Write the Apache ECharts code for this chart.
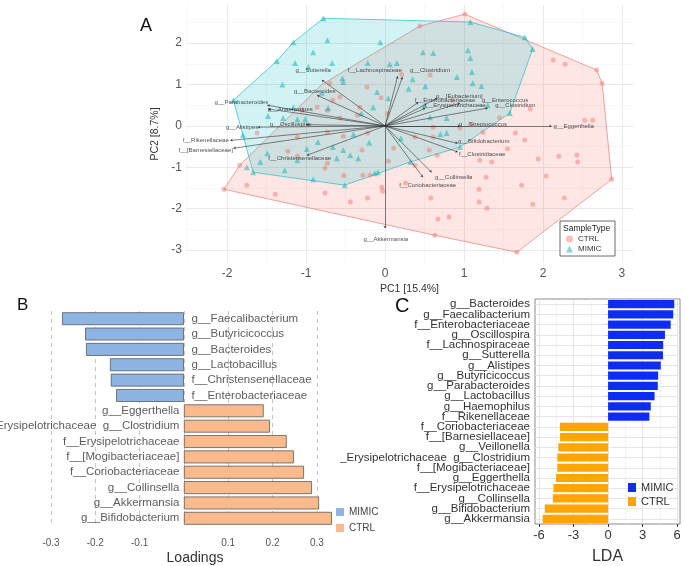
<!DOCTYPE html>
<html><head><meta charset="utf-8">
<script src="https://cdn.jsdelivr.net/npm/echarts@6/dist/echarts.min.js"></script>
<style>html,body{margin:0;padding:0;background:#fff}#c{width:685px;height:566px}</style>
</head><body><div id="c"></div>
<script>
// ---------- Panel A: PCA biplot ----------
const ctrlPoints = [
[0.57,1.23],[-0.23,0.94],[-0.57,0.70],[-0.32,0.45],[-0.73,0.38],[-0.57,0.19],[-1.62,-0.17],[-1.11,-0.27],[-0.22,-0.17],
[1.01,2.70],[0.44,2.41],[2.13,1.59],[2.28,1.49],[2.68,1.35],[2.75,1.03],[1.84,0.41],[2.53,0.14],[2.63,0.14],[1.65,-0.17],[1.77,-0.34],[0.61,-0.03],[0.95,-0.05],[0.38,-0.27],[0.61,-0.27],
[0.56,-0.58],[1.20,-0.83],[1.35,-0.87],[1.94,-0.80],[2.20,-0.73],[2.43,-0.70],[2.44,-0.87],[1.28,-1.24],[2.04,-1.21],[1.73,-1.43],[1.19,-1.53],[0.58,-1.74],[1.19,-1.84],[1.29,-1.99],[1.87,-1.89],[2.27,-1.74],[0.67,-2.25],[0.81,-2.20],[0.63,-2.64],[1.67,-3.05],[2.87,-1.29],
[-2.04,-1.53],[-1.75,-1.43],[-1.39,-1.65],[-0.76,-1.62],[-0.44,-1.84],[-0.22,-1.74],[-0.04,-1.48],[-0.03,-1.57],[-1.23,-0.61],[-1.11,-0.73],[-0.73,-0.90],[-0.76,-1.02],[-0.28,-1.19],[-0.19,-1.19],[0.04,-0.85],[0.38,-0.95],[-0.29,-0.58],[0.11,-0.54],[0.66,-0.71],[1.08,0.04],[1.24,-0.15],[-1.05,0.38],[-0.86,0.45],[-0.73,-0.15],[-0.53,-0.25],[-0.35,0.26],[-0.66,0.62],[-0.70,1.03],[-1.84,-0.95],
[0.21,1.25],[0.03,0.30],[1.45,0.20],[0.26,-1.38],[-0.52,-1.20],[1.55,-0.55],[0.85,0.62],[-0.05,0.68]
];
const mimicPoints = [
[-0.78,2.60],[-1.16,2.02],[-0.73,2.07],[-0.91,1.78],[-1.37,1.57],[-1.14,1.52],[-0.97,1.42],[-0.67,1.52],[-0.06,2.02],[-0.22,1.52],
[-0.54,1.15],[-0.53,1.06],[0.06,1.49],[0.15,1.52],[0.48,1.78],[0.61,1.76],[0.91,1.18],[0.51,0.96],[0.04,0.67],[-1.92,0.62],
[-1.48,0.24],[-1.29,0.19],[-1.11,0.16],[-1.01,0.16],[-1.16,0.45],[-0.72,0.43],[-0.15,0.45],[0.78,0.19],[-1.80,-0.22],[-0.85,-0.39],
[0.78,-0.17],[1.08,2.51],[1.77,2.14],[1.87,1.86],[1.05,1.83],[1.08,1.64],[1.10,1.30],[1.11,1.03],[1.22,0.96],[0.35,1.13],
[1.58,0.31],[0.57,0.21],[-1.67,-1.12],[-1.27,-1.07],[-1.49,-0.66],[-1.11,-0.83],[-0.91,-1.29],[-0.51,-1.43],[-0.61,-0.78],[-0.44,-0.71],
[-0.34,-0.78],[-0.66,-0.51],[-0.13,-1.14],[-0.09,-1.12],[-0.10,0.82],[-0.99,-0.56],[-0.53,-0.58],[-1.58,-0.87],[-1.75,-1.00],[0.32,-0.87],
[0.95,-0.51],[-0.30,0.30],[0.20,-0.30],[-0.40,-0.20],[0.50,0.50],[-0.80,0.80],[0.30,0.90],[-1.30,1.00],[-0.20,-0.40],[1.30,0.50],[0.70,-0.20]
];
const ctrlHull = [[1.01,2.70],[0.44,2.41],[-0.80,1.00],[-1.84,-0.95],[-2.04,-1.53],[0.63,-2.64],[1.67,-3.05],[2.87,-1.29],[2.75,1.03],[2.68,1.35]];
const mimicHull = [[-0.78,2.60],[1.08,2.51],[1.77,2.14],[1.87,1.86],[1.58,0.31],[0.95,-0.51],[0.32,-0.87],[-0.51,-1.43],[-1.67,-1.12],[-1.92,0.62],[-1.37,1.57],[-1.16,2.02]];
const loadNames = ['g__Sutterella','f__Lachnospiraceae','g__Clostridium','g__Bacteroides','g__Parabacteroides','g__Anaerostipes','g__Alistipes','g__Oscillospira','f__Rikenellaceae','f__[Barnesiellaceae]','f__Christensenellaceae','g__[Eubacterium]','f__Enterobacteriaceae','g__Enterococcus','f__Erysipelotrichaceae','g__Clostridium','g__Streptococcus','g__Eggerthella','g__Bifidobacterium','f__Clostridiaceae','g__Collinsella','f__Coriobacteriaceae','g__Akkermansia'];
const loadX = [-0.80,0.16,0.22,-0.86,-1.49,-1.48,-1.61,-1.00,-1.96,-1.92,-0.99,0.66,0.42,0.95,0.51,1.30,0.95,2.11,0.92,0.92,0.59,0.48,0.00];
const loadY = [1.11,1.20,1.18,0.74,0.50,0.41,-0.03,0.03,-0.35,-0.54,-0.71,0.67,0.57,0.55,0.43,0.43,0.00,0.00,-0.42,-0.63,-1.12,-1.24,-2.47];
const labelX = [-0.91,-0.13,0.57,-0.89,-1.82,-1.20,-1.81,-1.20,-2.27,-2.27,-1.08,0.94,0.76,1.52,0.89,1.65,1.24,2.39,1.25,1.23,0.87,0.54,0.01];
const labelY = [1.35,1.35,1.35,0.84,0.57,0.40,-0.03,0.04,-0.35,-0.59,-0.78,0.72,0.62,0.62,0.50,0.50,0.04,0.00,-0.37,-0.68,-1.24,-1.43,-2.74];
const aTicksX = [-2,-1,0,1,2,3];
const aTicksY = [-3,-2,-1,0,1,2];

// ---------- Panel B: loadings ----------
const bCats = ['g__Faecalibacterium','g__Butyricicoccus','g__Bacteroides','g__Lactobacillus','f__Christensenellaceae','f__Enterobacteriaceae','g__Eggerthella','Erysipelotrichaceae  g__Clostridium','f__Erysipelotrichaceae','f__[Mogibacteriaceae]','f__Coriobacteriaceae','g__Collinsella','g__Akkermansia','g__Bifidobacterium'];
const bVals = [-0.275,-0.223,-0.221,-0.167,-0.165,-0.153,0.180,0.194,0.232,0.248,0.271,0.289,0.305,0.334];

// ---------- Panel C: LDA ----------
const cCats = ['g__Bacteroides','g__Faecalibacterium','f__Enterobacteriaceae','g__Oscillospira','f__Lachnospiraceae','g__Sutterella','g__Alistipes','g__Butyricicoccus','g__Parabacteroides','g__Lactobacillus','g__Haemophilus','f__Rikenellaceae','f__Coriobacteriaceae','f__[Barnesiellaceae]','g__Veillonella','_Erysipelotrichaceae  g__Clostridium','f__[Mogibacteriaceae]','g__Eggerthella','f__Erysipelotrichaceae','g__Collinsella','g__Bifidobacterium','g__Akkermansia'];
const cVals = [5.75,5.66,5.44,4.94,4.79,4.77,4.58,4.35,4.32,4.04,3.71,3.59,-4.18,-4.17,-4.32,-4.41,-4.41,-4.52,-4.75,-4.80,-5.50,-5.68];
const cTicks = [-6,-3,0,3,6];

const FONT = 'Liberation Sans, Arial, sans-serif';
const chart = echarts.init(document.getElementById('c'), null, {renderer:'canvas'});

function hullRenderer(hull, fill, stroke){
  return function(params, api){
    return {type:'polygon', shape:{points: hull.map(p => api.coord(p))},
      style:{fill: fill, stroke: stroke, lineWidth: 0.8}};
  };
}
function gridLinesA(){
  const d = [];
  for (let v=-2.5; v<=3.01; v+=0.5){ const major = Math.abs(v-Math.round(v))<1e-6;
    d.push({xAxis: v, lineStyle:{color: major?'#e6e6e6':'#f3f3f3', width: major?0.9:0.6, type:'solid'}}); }
  for (let v=-3; v<=2.51; v+=0.5){ const major = Math.abs(v-Math.round(v))<1e-6;
    d.push({yAxis: v, lineStyle:{color: major?'#e6e6e6':'#f3f3f3', width: major?0.9:0.6, type:'solid'}}); }
  return d;
}
function gridLinesC(){
  const d = [];
  [-6,-4.5,-3,-1.5,0,1.5,3,4.5,6].forEach(v => {
    const major = v % 3 === 0;
    d.push({xAxis: v, lineStyle:{color: major?'#e2e2e2':'#efefef', width: major?0.9:0.6, type:'solid'}});
  });
  cCats.forEach(c => d.push({yAxis: c, lineStyle:{color:'#e2e2e2', width:0.9, type:'solid'}}));
  return d;
}
const markBase = {silent:true, symbol:['none','none'], label:{show:false}, animation:false};
const CLEAR = 'rgba(0,0,0,0)';

const option = {
  animation: false,
  textStyle: {fontFamily: FONT},
  grid: [
    {left:186, top:5, width:447, height:258},
    {left:51, top:311, width:288, height:221},
    {left:535, top:299, width:145, height:229, show:true, borderColor:'#8a8a8a', borderWidth:1, backgroundColor:'transparent'}
  ],
  xAxis: [
    {gridIndex:0, type:'value', min:-2.52, max:3.14, axisLine:{show:false}, axisTick:{show:false}, splitLine:{show:false},
     axisLabel:{customValues:aTicksX, fontSize:12, color:'#555', margin:5},
     name:'PC1 [15.4%]', nameLocation:'middle', nameGap:21, nameTextStyle:{fontSize:10.5, color:'#333'}},
    {gridIndex:1, type:'value', min:-0.3, max:0.35, interval:0.1, axisLine:{show:false}, axisTick:{show:false},
     splitLine:{show:true, showMaxLine:false, lineStyle:{type:[4,4], color:'#c4c4c4', width:1}},
     axisLabel:{fontSize:10, color:'#555', margin:12, showMaxLabel:false,
       formatter: v => (Math.abs(v) < 1e-9 || Math.abs(v*10 - Math.round(v*10)) > 1e-6) ? '' : String(Math.round(v*10)/10)},
     name:'Loadings', nameLocation:'middle', nameGap:25, nameTextStyle:{fontSize:14, color:'#333'}},
    {gridIndex:2, type:'value', min:-6.35, max:6.25, axisLine:{show:false},
     axisTick:{show:true, customValues:cTicks, length:3, lineStyle:{color:'#333'}}, splitLine:{show:false},
     axisLabel:{customValues:cTicks, fontSize:13, color:'#333', margin:5},
     name:'LDA', nameLocation:'middle', nameGap:25, nameTextStyle:{fontSize:16, color:'#333'}}
  ],
  yAxis: [
    {gridIndex:0, type:'value', min:-3.31, max:2.92, axisLine:{show:false}, axisTick:{show:false}, splitLine:{show:false},
     axisLabel:{customValues:aTicksY, fontSize:12, color:'#555', margin:4},
     name:'PC2 [8.7%]', nameLocation:'middle', nameGap:16, nameTextStyle:{fontSize:10.5, color:'#333'}},
    {gridIndex:1, type:'category', data:bCats, inverse:true, show:false},
    {gridIndex:2, type:'category', data:cCats, inverse:true, axisLine:{show:false},
     axisTick:{show:true, length:3, interval:0, alignWithLabel:true, lineStyle:{color:'#333'}},
     axisLabel:{interval:0, fontSize:11.5, color:'#333', margin:5}}
  ],
  legend: [
    {data:[{name:'CTRL', icon:'circle'},{name:'MIMIC', icon:'triangle'}], orient:'vertical', left:566, top:235, padding:0,
     itemWidth:7, itemHeight:7, itemGap:2, textStyle:{fontSize:8, color:'#333'}, z:110, selectedMode:false},
    {data:[{name:'B-MIMIC', icon:'rect'},{name:'B-CTRL', icon:'rect'}], orient:'vertical', left:336, top:507, padding:0,
     itemWidth:8, itemHeight:8, itemGap:6, itemStyle:{borderWidth:0}, textStyle:{fontSize:10, color:'#444'}, formatter: n => n.slice(2), selectedMode:false},
    {data:[{name:'C-MIMIC', icon:'rect'},{name:'C-CTRL', icon:'rect'}], orient:'vertical', left:628, top:482, padding:0,
     itemWidth:8, itemHeight:9, itemGap:3, textStyle:{fontSize:11, color:'#333'}, formatter: n => n.slice(2), selectedMode:false}
  ],
  graphic: [
    {type:'text', left:140, top:17, style:{text:'A', fontSize:18, fill:'#111', fontFamily:FONT}},
    {type:'text', left:17, top:297, style:{text:'B', fontSize:17, fill:'#111', fontFamily:FONT}},
    {type:'text', left:395, top:296, style:{text:'C', fontSize:20, fill:'#111', fontFamily:FONT}},
    {type:'rect', shape:{x:560, y:221, width:55, height:35}, style:{fill:'#fff', stroke:'#444', lineWidth:0.8}, z:100},
    {type:'text', left:563, top:224, style:{text:'SampleType', fontSize:8.5, fill:'#222', fontFamily:FONT}, z:110}
  ],
  series: [
    {type:'scatter', name:'CTRL', xAxisIndex:0, yAxisIndex:0, data:ctrlPoints, symbol:'circle', symbolSize:5,
     itemStyle:{color:'rgba(242,110,100,0.55)'}, z:3,
     markLine: Object.assign({}, markBase, {z:0, data: gridLinesA()})},
    {type:'custom', name:'ctrlHull', xAxisIndex:0, yAxisIndex:0, data:[[0,0]], clip:false, silent:true, z:1,
     renderItem: hullRenderer(ctrlHull, 'rgba(248,118,109,0.18)', '#F08A83')},
    {type:'custom', name:'mimicHull', xAxisIndex:0, yAxisIndex:0, data:[[0,0]], clip:false, silent:true, z:1,
     renderItem: hullRenderer(mimicHull, 'rgba(0,191,196,0.18)', '#3CC3C8')},
    {type:'scatter', name:'MIMIC', xAxisIndex:0, yAxisIndex:0, data:mimicPoints, symbol:'triangle', symbolSize:6,
     itemStyle:{color:'rgba(0,175,180,0.6)'}, z:3},
    {type:'lines', name:'arrows', coordinateSystem:'cartesian2d', xAxisIndex:0, yAxisIndex:0, z:4, silent:true,
     data: loadX.map((x,i) => ({coords:[[0,0],[x, loadY[i]]]})),
     symbol:['none','arrow'], symbolSize:2.5, lineStyle:{color:'#333', width:0.7, opacity:0.85}},
    {type:'scatter', name:'loadLabels', xAxisIndex:0, yAxisIndex:0, z:5, silent:true,
     data: loadNames.map((n,i) => [labelX[i], labelY[i], n]), symbolSize:1, itemStyle:{color:CLEAR},
     label:{show:true, position:'inside', formatter: p => p.data[2], fontSize:6, color:'#222', fontFamily:FONT}},

    {type:'bar', name:'B-MIMIC', xAxisIndex:1, yAxisIndex:1, stack:'b', barCategoryGap:'16%',
     data: bVals.map(v => v < 0 ? v : '-'), itemStyle:{color:'#8db4e2', borderColor:'#5a5a5a', borderWidth:0.8}},
    {type:'bar', name:'B-CTRL', xAxisIndex:1, yAxisIndex:1, stack:'b', barCategoryGap:'16%',
     data: bVals.map(v => v > 0 ? v : '-'), itemStyle:{color:'#fbba8b', borderColor:'#5a5a5a', borderWidth:0.8}},
    {type:'scatter', name:'bLabels', xAxisIndex:1, yAxisIndex:1, z:5, silent:true, symbolSize:1, itemStyle:{color:CLEAR},
     data: bCats.map((c,i) => ({value:[0,c], label:{position: bVals[i] < 0 ? 'right' : 'left', distance: bVals[i] < 0 ? 7 : 4}})),
     label:{show:true, formatter: p => p.value[1], fontSize:11.5, color:'#333', fontFamily:FONT}},

    {type:'bar', name:'C-MIMIC', xAxisIndex:2, yAxisIndex:2, stack:'c', barCategoryGap:'20%',
     data: cVals.map(v => v > 0 ? v : '-'), itemStyle:{color:'#0d2ef2'}, z:2,
     markLine: Object.assign({}, markBase, {z:1, data: gridLinesC()})},
    {type:'bar', name:'C-CTRL', xAxisIndex:2, yAxisIndex:2, stack:'c', barCategoryGap:'20%',
     data: cVals.map(v => v < 0 ? v : '-'), itemStyle:{color:'#ffa500'}, z:2}
  ]
};
chart.setOption(option);
</script></body></html>
